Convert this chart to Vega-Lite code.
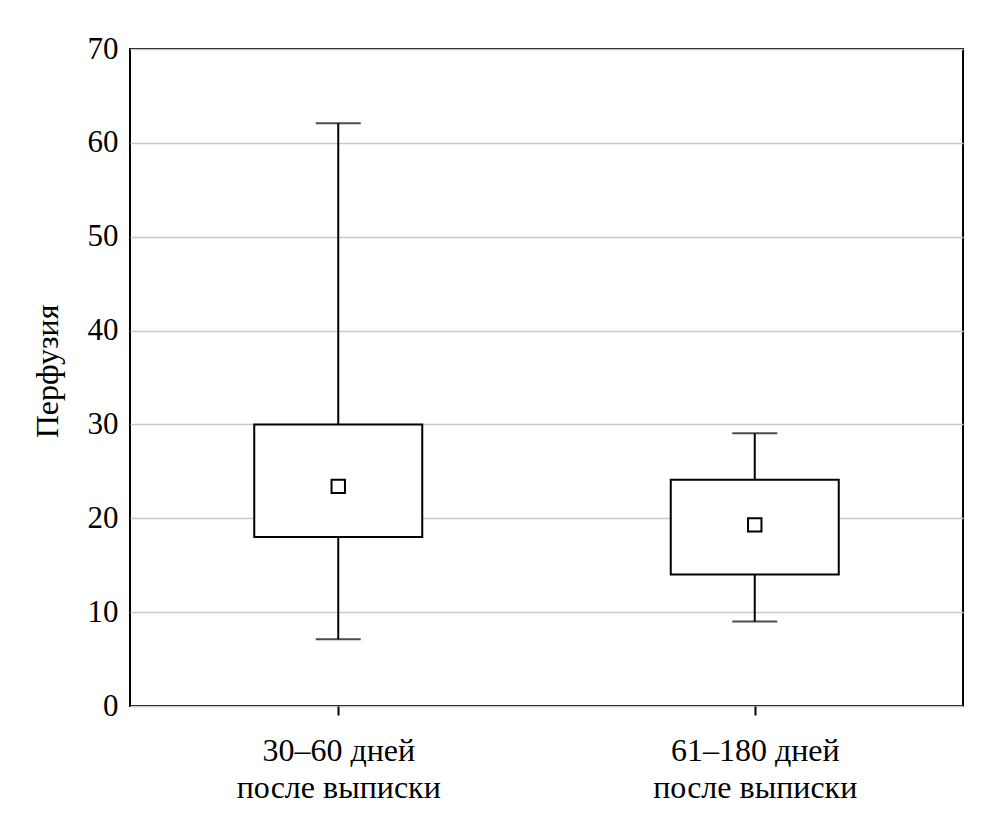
{
  "$schema": "https://vega.github.io/schema/vega-lite/v6.json",
  "width": 833,
  "height": 657,
  "autosize": {"type": "none"},
  "padding": {"left": 130, "top": 49, "right": 32, "bottom": 121},
  "background": "white",
  "config": {
    "font": "Liberation Serif",
    "view": {"stroke": "black", "strokeWidth": 2},
    "axis": {"labelFont": "Liberation Serif", "titleFont": "Liberation Serif", "labelColor": "black", "titleColor": "black"}
  },
  "data": {
    "values": [
      {"group": "30–60 дней\nпосле выписки", "lower": 7.1, "q1": 18, "q3": 30, "upper": 62.1, "mean": 23.4},
      {"group": "61–180 дней\nпосле выписки", "lower": 9.0, "q1": 14, "q3": 24.1, "upper": 29.05, "mean": 19.3}
    ]
  },
  "encoding": {
    "x": {
      "field": "group", "type": "nominal", "sort": null,
      "scale": {"type": "point", "padding": 0.5},
      "axis": {
        "title": null, "domain": false, "grid": false,
        "ticks": true, "tickSize": 9, "tickColor": "black", "tickWidth": 2,
        "labelAngle": 0, "labelFontSize": 32, "labelPadding": 20, "labelLimit": 0,
        "labelLineHeight": 37, "labelBaseline": "top",
        "labelExpr": "split(datum.label, '\\n')"
      }
    }
  },
  "layer": [
    {
      "mark": {"type": "rule", "color": "black", "strokeWidth": 2},
      "encoding": {
        "y": {
          "field": "lower", "type": "quantitative",
          "scale": {"domain": [0, 70], "nice": false, "zero": true},
          "axis": {
            "title": "Перфузия", "values": [0, 10, 20, 30, 40, 50, 60, 70],
            "domain": false, "ticks": false, "grid": true,
            "gridColor": "#c8c8c8", "gridWidth": 1.5,
            "labelFontSize": 31, "labelPadding": 12, "labelLimit": 0,
            "titleFontSize": 32, "titleFontWeight": "normal",
            "titleAngle": -90, "titleX": -73, "titleY": 322,
            "titleBaseline": "alphabetic", "titleAlign": "center"
          }
        },
        "y2": {"field": "upper"}
      }
    },
    {
      "mark": {"type": "tick", "color": "black", "thickness": 2, "size": 45, "orient": "horizontal"},
      "encoding": {"y": {"field": "lower", "type": "quantitative"}}
    },
    {
      "mark": {"type": "tick", "color": "black", "thickness": 2, "size": 45, "orient": "horizontal"},
      "encoding": {"y": {"field": "upper", "type": "quantitative"}}
    },
    {
      "mark": {"type": "bar", "width": 168, "fill": "white", "stroke": "black", "strokeWidth": 2},
      "encoding": {
        "y": {"field": "q1", "type": "quantitative"},
        "y2": {"field": "q3"}
      }
    },
    {
      "mark": {"type": "point", "shape": "square", "filled": false, "fill": "white", "stroke": "black", "strokeWidth": 2, "size": 180, "opacity": 1},
      "encoding": {"y": {"field": "mean", "type": "quantitative"}}
    }
  ]
}
